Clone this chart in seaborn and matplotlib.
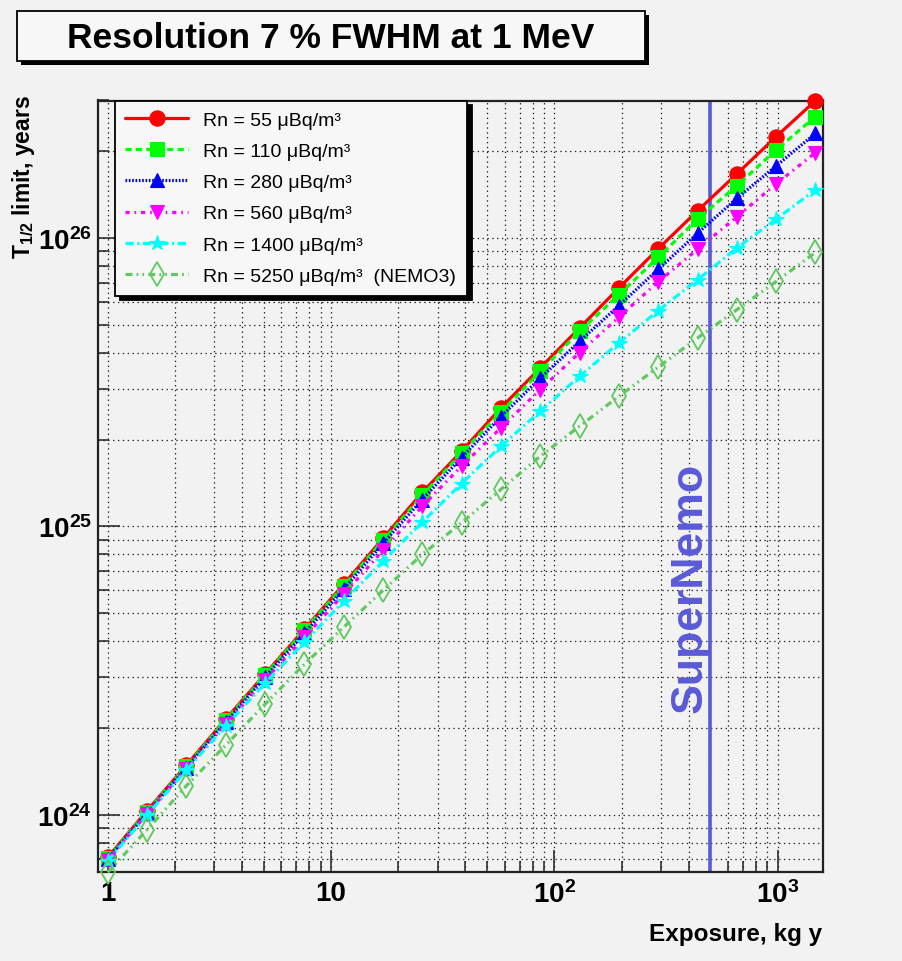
import numpy as np
import pandas as pd
import matplotlib
matplotlib.use("Agg")
import matplotlib.pyplot as plt
import matplotlib.transforms as mtransforms
from matplotlib.patches import Rectangle
from matplotlib.ticker import FixedLocator, FixedFormatter, LogLocator, NullFormatter
import seaborn as sns

# ---------------- data ----------------
exposure = [1.0, 1.5, 2.25, 3.375, 5.06, 7.59, 11.39, 17.09, 25.63, 38.44,
            57.67, 86.5, 129.7, 194.6, 291.9, 437.9, 656.8, 985.3, 1477.9]

rn55 = [7.12e23, 1.033e24, 1.487e24, 2.146e24, 3.072e24, 4.398e24, 6.297e24,
        9.09e24, 1.312e25, 1.823e25, 2.577e25, 3.545e25, 4.878e25, 6.711e25,
        9.18e25, 1.243e26, 1.669e26, 2.248e26, 2.997e26]
rn110 = [7.08e23, 1.026e24, 1.475e24, 2.128e24, 3.047e24, 4.363e24, 6.222e24,
         8.943e24, 1.281e25, 1.800e25, 2.489e25, 3.450e25, 4.748e25, 6.362e25,
         8.566e25, 1.164e26, 1.518e26, 2.022e26, 2.638e26]
rn280 = [7.025e23, 1.014e24, 1.457e24, 2.095e24, 2.999e24, 4.260e24, 6.051e24,
         8.733e24, 1.240e25, 1.734e25, 2.404e25, 3.268e25, 4.384e25, 5.829e25,
         7.796e25, 1.039e26, 1.373e26, 1.780e26, 2.307e26]
rn560 = [6.98e23, 1.008e24, 1.445e24, 2.062e24, 2.928e24, 4.126e24, 5.814e24,
         8.259e24, 1.176e25, 1.618e25, 2.198e25, 2.982e25, 4.006e25, 5.317e25,
         7.055e25, 9.146e25, 1.185e26, 1.542e26, 1.979e26]
rn1400 = [6.913e23, 9.98e23, 1.428e24, 2.029e24, 2.859e24, 3.965e24, 5.498e24,
          7.583e24, 1.035e25, 1.409e25, 1.897e25, 2.509e25, 3.315e25, 4.328e25,
          5.601e25, 7.170e25, 9.235e25, 1.164e26, 1.470e26]
rn5250 = [6.318e23, 8.872e23, 1.260e24, 1.743e24, 2.417e24, 3.327e24, 4.469e24,
          6.002e24, 7.998e24, 1.030e25, 1.344e25, 1.752e25, 2.226e25, 2.827e25,
          3.568e25, 4.503e25, 5.645e25, 7.073e25, 8.917e25]

series_labels = ["Rn = 55 \u03bcBq/m\u00b3", "Rn = 110 \u03bcBq/m\u00b3",
                 "Rn = 280 \u03bcBq/m\u00b3", "Rn = 560 \u03bcBq/m\u00b3",
                 "Rn = 1400 \u03bcBq/m\u00b3", "Rn = 5250 \u03bcBq/m\u00b3  (NEMO3)"]
series_values = [rn55, rn110, rn280, rn560, rn1400, rn5250]

x_tick_values = [1, 10, 100, 1000]
x_tick_labels = ["1", "10", r"$10^{2}$", r"$10^{3}$"]
y_tick_values = [1e24, 1e25, 1e26]
y_tick_labels = [r"$10^{24}$", r"$10^{25}$", r"$10^{26}$"]
supernemo_exposure = 500
title_text = "Resolution 7 % FWHM at 1 MeV"

# ---------------- styles ----------------
colors = ["#ff0000", "#00ff00", "#0000ff", "#ff00ff", "#00ffff", "#5ec95e"]
markers = ["o", "s", "^", "v", "*", "d"]
msizes = [11, 10, 10, 10, 11.5, 12]
dashes = [(None, None), (0, (4.5, 3)), (0, (1.2, 1.2)), (0, (3, 3.5, 1.2, 3.5)),
          (0, (6, 2.5, 1.5, 2.5)), (0, (5, 3, 1.2, 3, 1.2, 3))]
bg = "#f2f2f2"
nemo_blue = "#5a5ad8"

sns.set_theme(style="ticks")
plt.rcParams["font.family"] = ["Liberation Sans", "DejaVu Sans"]
plt.rcParams["mathtext.fontset"] = "custom"
plt.rcParams["mathtext.rm"] = "Liberation Sans:bold"
plt.rcParams["mathtext.it"] = "Liberation Sans:bold"
plt.rcParams["mathtext.bf"] = "Liberation Sans:bold"
plt.rcParams["mathtext.default"] = "bf"
plt.rcParams["lines.scale_dashes"] = False
for key in ["text.color", "axes.labelcolor", "xtick.color", "ytick.color",
            "xtick.labelcolor", "ytick.labelcolor"]:
    plt.rcParams[key] = "black"

W, H = 903, 962
fig = plt.figure(figsize=(W / 100, H / 100), dpi=100, facecolor=bg)
ax = fig.add_axes([97.7 / W, 1 - 872.7 / H, (823 - 97.7) / W, (872.7 - 101.5) / H])
ax.set_facecolor(bg)
ax.set_xscale("log")
ax.set_yscale("log")

long_rows = []
for lab, vals in zip(series_labels, series_values):
    for xv, yv in zip(exposure, vals):
        long_rows.append({"exposure": xv, "t12": yv, "series": lab})
df = pd.DataFrame(long_rows)

handles = []
for i, lab in enumerate(series_labels):
    sub = df[df["series"] == lab]
    ls = "-" if i == 0 else dashes[i]
    hollow = markers[i] == "d"
    sns.lineplot(data=sub, x="exposure", y="t12", ax=ax, color=colors[i],
                 linestyle=ls, linewidth=2.3, marker=markers[i], markersize=msizes[i],
                 markeredgecolor=colors[i],
                 markerfacecolor="none" if hollow else colors[i],
                 markeredgewidth=1.3 if hollow else 0.8,
                 label=lab, legend=False, clip_on=False, zorder=3 + i,
                 estimator=None, sort=False)
    handles.append(ax.lines[-1])

ax.set_xlim(0.902, 1597)
ax.set_ylim(6.35e23, 3.0e26)

# SuperNemo marker line and text
ax.axvline(supernemo_exposure, color=nemo_blue, lw=2.6, zorder=2)
trans = mtransforms.blended_transform_factory(ax.transData, ax.transAxes)
ax.text(405, 0.369, "SuperNemo", transform=trans, rotation=90, color=nemo_blue,
        fontsize=32, fontweight="bold", ha="center", va="center", zorder=2)

# ticks and grid
ax.xaxis.set_major_locator(FixedLocator(x_tick_values))
ax.xaxis.set_major_formatter(FixedFormatter(x_tick_labels))
ax.xaxis.set_minor_locator(LogLocator(base=10, subs=np.arange(2, 10), numticks=20))
ax.xaxis.set_minor_formatter(NullFormatter())
ax.yaxis.set_major_locator(FixedLocator(y_tick_values))
ax.yaxis.set_major_formatter(FixedFormatter(y_tick_labels))
ax.yaxis.set_minor_locator(LogLocator(base=10, subs=np.arange(2, 10), numticks=20))
ax.yaxis.set_minor_formatter(NullFormatter())
ax.tick_params(which="major", direction="in", length=16, width=1.1, color="#222222",
               labelsize=20, labelcolor="black", pad=6, top=False, right=False)
ax.tick_params(which="minor", direction="in", length=8, width=1.1, color="#222222",
               top=False, right=False)
ax.tick_params(axis="y", which="major", pad=4)
for lbl in ax.get_xticklabels() + ax.get_yticklabels():
    lbl.set_fontweight("bold")
ax.grid(which="both", color="#222222", linestyle=(0, (1, 2.5)), linewidth=0.9, zorder=0)
ax.set_axisbelow(True)
for s in ax.spines.values():
    s.set_linewidth(1.6)
    s.set_color("#222222")

ax.set_xlabel("")
ax.set_ylabel("")
fig.text(822 / W, 1 - 935 / H, "Exposure, kg y", ha="right", va="center",
         fontsize=17.5, fontweight="bold", color="black")
fig.text(24 / W, 1 - 95 / H, r"T$_{1/2}$ limit, years", rotation=90, ha="center",
         va="top", fontsize=16.5, fontweight="bold", color="black")

# legend
leg = ax.legend(handles=handles, labels=series_labels, loc="upper left",
                bbox_to_anchor=(17 / (823 - 97.7), 1.0), fontsize=14,
                frameon=True, fancybox=False, handlelength=3.2, handletextpad=0.8,
                labelspacing=0.7, borderpad=0.55, borderaxespad=0,
                shadow={"ox": 3.5, "oy": -3.5, "color": "black", "alpha": 1.0})
leg.get_frame().set_facecolor("#f7f7f7")
leg.get_frame().set_edgecolor("black")
leg.get_frame().set_linewidth(1.3)
for t in leg.get_texts():
    t.set_color("black")
leg.set_zorder(20)

# title box with shadow
fig.patches.append(Rectangle((21 / W, 1 - 66 / H), (645 - 17) / W, (62 - 12) / H,
                             transform=fig.transFigure, facecolor="black",
                             edgecolor="none", zorder=1))
fig.patches.append(Rectangle((17 / W, 1 - 62 / H), (645 - 17) / W, (62 - 12) / H,
                             transform=fig.transFigure, facecolor="#f7f7f7",
                             edgecolor="black", linewidth=1.3, zorder=2))
fig.text(331 / W, 1 - 38 / H, title_text, ha="center", va="center",
         fontsize=25.5, fontweight="bold", color="black", zorder=3)

fig.savefig("out.png", dpi=100, facecolor=bg)
